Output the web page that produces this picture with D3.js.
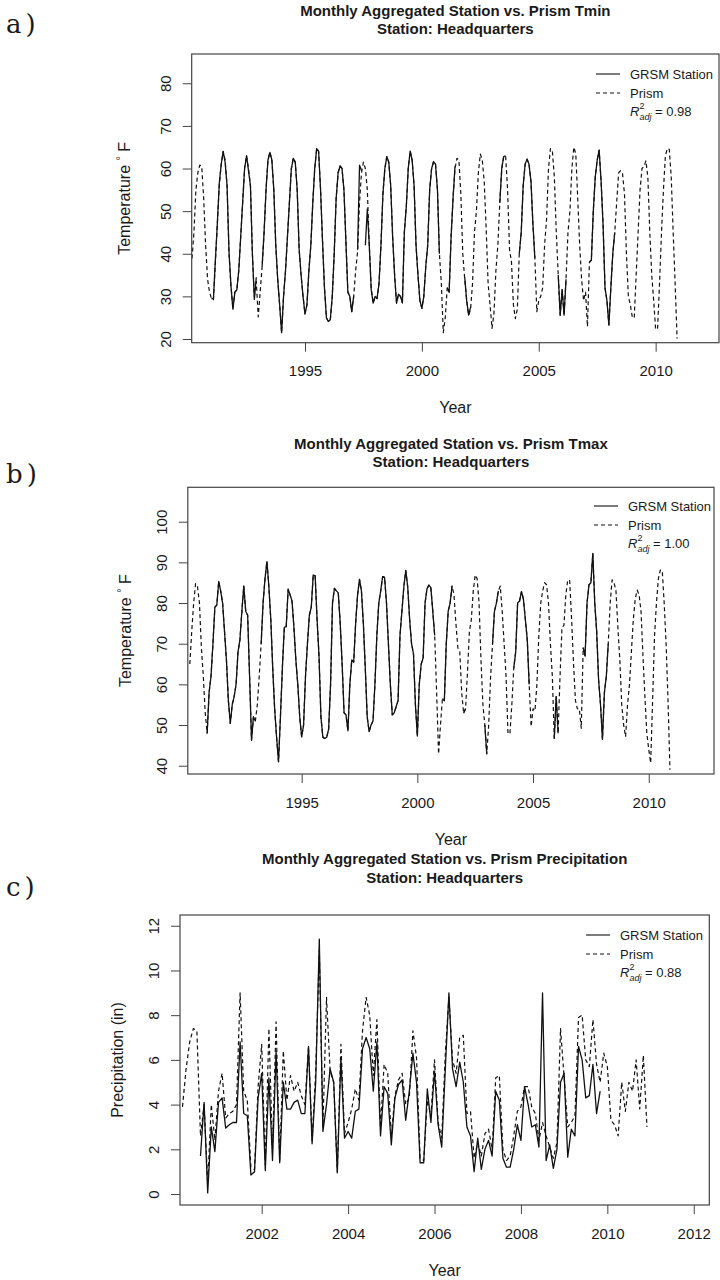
<!DOCTYPE html>
<html><head><meta charset="utf-8">
<script src="https://cdn.jsdelivr.net/npm/d3@7"></script>
<style>
body{margin:0;background:#fff}
svg{display:block}
text{font-family:"Liberation Sans",Arial,Helvetica,sans-serif;fill:#1a1a1a}
</style>
</head><body>
<svg id="chart" width="720" height="1280"></svg>
<script>
// ---------------- DATA ----------------
// monthly series; temperature series start March 1990, precipitation March 2000
const tempStart = [1990, 3];
const precipStart = [2000, 3];

const tminPrism = [
  38.9,45,55,59,60.8,60.5,53,42,34,31,
  29.5,29.2,38,47,56,61,64,62,56,40,32.5,27,
  31,31.5,36,44,52,60,63,60,56,40,30,33.5,
  25.2,31,37,45,55,62,63.8,62,55,42,34,28,
  21.5,30,36,44,52,60,62.4,61.5,55,41,35,30,
  25.9,28,36,42,52,60,64.7,64,55,43,32,25,
  24.1,24.5,30,40,53,59,60.6,60,55,43,31,30,
  26.4,30,36,40.5,52,59,61.5,60,55,42,32,28.4,
  30,29.5,33,42,54,60,62.8,61.5,56,44,35,28.4,
  30.5,30,28.5,45,51,60,64.1,62,56,42,35,29,
  27.2,30,37,42,55,60,61.6,61,55,40,33,21.5,
  25,32,31,44,53,60,62.4,62,54,40,34,29,
  25.6,27,33,45,50,59,63.4,62,57,46,33,28,
  22.5,26,36,42,52,60,62.8,63,55,41,38,28,
  24.8,27,40,45,56,61,62.2,61,57,47,39,26.4,
  29,30,32,42,48,60,64.7,64,58,45,35,25.6,
  31.6,25.6,34,45,50,60,65,63.5,53,42,34,29,
  31,22.9,38,38.5,50,58,62,64.3,57,47,32,29,
  23.3,32,40,45,52,59,59.5,58.8,54,40,30,28,
  25.2,24.9,35,45,55,60,60.5,61.8,58,45,35,29,
  22.2,22.5,33,45,55,63,64.7,64.5,58,45,33,20.1
];
const tminStation = [
  null,null,null,null,null,null,null,null,null,null,
  29.5,29.4,38.5,47,56.5,61,64,61.5,56,40.5,32.5,27,
  31,31.5,36,44,52,60,63,59.5,56,40,29.3,34.5,
  null,null,37,45,55,62,63.8,62,55,42,34,28,
  21.5,30,36,44,52,60,62.4,61.5,55,41,35,30,
  25.9,28,36,42,52,60,64.7,64,55,43,32,25,
  24.1,24.5,30,40,53,59,60.6,60,55,43,31,30,
  26.4,30,null,41,60.8,59.5,null,42,50.5,42,31.5,28.4,
  30,29.5,33,42,54,60,62.8,61.5,56,44,35,28.4,
  30.5,30,28.5,45,51,60,64.1,62,56,42,35,29,
  27.2,30,37,42,55,60,61.6,61,55,40,null,null,
  null,32,31,44,53,60.5,null,null,null,null,34.5,29,
  25.6,27.5,null,null,null,null,null,null,null,null,null,null,
  null,null,null,null,52,60,62.8,63,null,null,null,null,
  null,null,40,45,56,61,62.2,61,57,47,39,null,
  null,null,null,null,null,null,null,null,null,null,35,25.6,
  31.6,25.6,34,null,null,null,null,null,null,null,null,null,
  null,null,38,38.5,50,58,62,64.3,57,47,32,29,
  23.3,32,40,45,null,null,null,null,null,null,null,null,
  null,null,null,null,null,null,null,null,null,null,null,null,
  null,null,null,null,null,null,null,null,null,null,null,null
];

const tmaxPrism = [
  65,73,80,84.8,84,80,69,62,53,48,
  58,62,70,79,79.5,85.3,83,80,73,66,56,50.4,
  55,57,60,68,71,78,84.2,78,77,62,46.3,52,
  51,55,62,70,80,86,90.2,84,76,64,54,47,
  41,52,64,74,74.2,83.4,82,80.5,74,66,60,52,
  47.1,50,62,70,77,79,86.9,86.7,76,67,52,47,
  46.7,47,49,60,80,83.6,83,82.5,75,65,53,52.5,
  48.6,60,66,65.5,75,82,85.8,83,75,64,52,48.4,
  50,51,60,72,80,83,86.5,86.3,80,70,60,52.5,
  53,54.5,56,72,78,84,88,84,76,70,67.5,55,
  47.3,60,65,66.5,80,83.5,84.4,83.8,78,72,58,42.9,
  50,56.5,56,70,78,80,84.2,82,75,69,68,58,
  52.9,54,63,73,76,83,86.9,86,80,66,55,50,
  42.9,50,62,70,78,80,83,84.2,78,70,62,48,
  47.8,55,64,68,80,80.5,82.8,81,76,71,60,49.6,
  54,53.5,60,72,80,83,85,84.5,80,70,62,46.7,
  57,48,62,74,74.5,82,85.7,85.5,76,65,56,54,
  54,49.2,69,67,80,84.5,85,92.2,80,73,61,55,
  46.5,58,62,70,80,85.7,85,83,74,66,55,50,
  47.1,55,60,68,76,81,83.2,82,78,67,57,48,
  44,40.7,56,72,80,86,88.1,88,80,70,56,39
];
const tmaxStation = [
  null,null,null,null,null,null,null,null,null,48,
  58,62,70,79,79.5,85.3,83,80,73,66,56,50.4,
  55,57,60,68,71,78,84.2,78,77,62,46.3,52,
  51,null,null,70,80,86,90.2,84,76,64,54,47,
  41,52,64,74,74.2,83.4,82,80.5,74,66,60,52,
  47.1,50,62,70,77,79,86.9,86.7,76,67,52,47,
  46.7,47,49,60,80,83.6,83,82.5,75,65,53,52.5,
  48.6,60,66,65.5,75,82,85.8,83,75,64,52,48.4,
  50,51,60,72,80,83,86.5,86.3,80,70,60,52.5,
  53,54.5,56,72,78,84,88,84,76,70,67.5,55,
  47.3,60,65,66.5,80,83.5,84.4,83.8,78,72,null,null,
  null,56.5,56,70,78,80,84.2,null,null,null,null,null,
  52.9,54,null,null,null,null,null,null,null,null,null,50,
  42.9,null,null,70,78,80,83,null,null,null,null,null,
  null,null,64,68,80,80.5,82.8,81,76,71,60,null,
  null,null,null,null,null,null,null,null,null,null,null,46.7,
  57,48,null,null,null,null,null,null,null,null,null,null,
  null,null,69,67,80,84.5,85,92.2,80,73,61,55,
  46.5,58,62,70,null,null,null,null,null,null,null,null,
  null,null,null,null,null,null,null,null,null,null,null,null,
  null,null,null,null,null,null,null,null,null,null,null,null
];

const precipPrism = [
  3.9,5.6,6.8,7.4,7.3,2.6,4.0,0.5,4.0,2.4,
  4.6,5.4,3.4,3.6,3.7,4.0,9.0,4.6,4.2,1.2,
  1.1,4.8,6.7,1.3,7.4,2.0,7.7,1.5,6.4,4.2,
  5.3,4.6,5.0,4.4,4.0,6.6,2.4,5.5,10.9,3.0,
  8.8,5.5,5.0,1.0,6.7,2.7,3.2,3.8,4.7,4.2,
  7.3,8.8,8.0,5.3,7.8,3.0,5.8,5.4,2.6,4.4,
  5.1,5.4,4.0,4.3,7.3,6.1,1.6,1.5,4.2,3.5,
  6.0,3.2,2.5,6.3,8.8,6.0,5.4,7.0,7.1,3.6,
  3.7,1.6,2.3,1.7,2.7,2.9,2.0,5.2,5.3,2.0,
  1.5,1.7,2.6,3.7,3.9,4.8,4.8,3.9,3.6,2.4,
  3.2,2.6,2.1,1.6,2.3,7.4,5.2,3.0,3.2,3.5,
  7.9,8.0,6.0,5.7,7.8,5.8,5.0,6.3,5.7,3.3,
  3.1,2.6,5.0,3.7,5.0,4.6,6.0,3.8,6.2,3.0
];
const precipStation = [
  null,null,null,null,null,1.7,4.1,0.05,3.0,1.9,
  4.1,4.3,2.95,3.1,3.2,3.2,6.8,3.6,3.5,0.85,
  1.0,4.3,5.4,1.05,5.2,1.5,6.4,1.4,5.0,3.8,
  3.8,4.1,4.2,3.6,3.6,6.6,2.25,5.0,11.4,2.8,
  4.0,5.6,5.0,0.95,6.1,2.5,2.8,2.5,3.7,3.8,
  6.5,7.0,6.5,4.6,6.8,2.6,4.8,4.5,2.2,4.3,
  4.9,5.1,3.3,4.6,6.3,5.0,1.4,1.4,4.7,3.2,
  5.5,3.1,2.1,5.6,9.0,5.6,4.8,5.9,5.0,3.0,
  2.6,1.0,2.5,1.1,2.0,2.4,1.7,4.6,4.2,1.6,
  1.2,1.2,2.0,3.1,2.4,4.8,4.0,3.0,3.1,2.1,
  9.0,1.5,2.2,1.15,2.0,5.0,5.4,1.65,2.9,2.6,
  6.6,6.0,4.3,4.4,5.8,3.6,4.6,null,null,null,
  null,null,null,null,null,null,null,null,null,null
];

const tempYearTicks = [1995, 2000, 2005, 2010];
const precipYearTicks = [2002, 2004, 2006, 2008, 2010, 2012];
const tminTicks = [20, 30, 40, 50, 60, 70, 80];
const tmaxTicks = [40, 50, 60, 70, 80, 90, 100];
const precipTicks = [0, 2, 4, 6, 8, 10, 12];
const seriesNames = ["GRSM Station", "Prism"];
const r2Values = ["0.98", "1.00", "0.88"];
const panelLetters = ["a)", "b)", "c)"];
const titleLines = [
  ["Monthly Aggregated Station vs. Prism Tmin", "Station: Headquarters"],
  ["Monthly Aggregated Station vs. Prism Tmax", "Station: Headquarters"],
  ["Monthly Aggregated Station vs. Prism Precipitation", "Station: Headquarters"]
];

// ---------------- LAYOUT ----------------
const panels = [
  {prism: tminPrism, station: tminStation, start: tempStart,
   xDomain: [1990.154, 2012.71], yDomain: [19.13, 86.87],
   box: {l: 191.7, r: 719, t: 54, b: 342.7},
   xTicks: tempYearTicks, yTicks: tminTicks, ylab: "temp",
   titleY: [16, 34], letterY: 24, ylabX: 124, legY: 74, legX: 596},
  {prism: tmaxPrism, station: tmaxStation, start: tempStart,
   xDomain: [1990.08, 2012.82], yDomain: [37.96, 108.46],
   box: {l: 187.8, r: 714, t: 487.3, b: 774},
   xTicks: tempYearTicks, yTicks: tmaxTicks, ylab: "temp",
   titleY: [449, 467], letterY: 474, ylabX: 125, legY: 506, legX: 594},
  {prism: precipPrism, station: precipStation, start: precipStart,
   xDomain: [2000.109, 2012.36], yDomain: [-0.49, 12.48],
   box: {l: 180, r: 709.3, t: 915, b: 1205},
   xTicks: precipYearTicks, yTicks: precipTicks, ylab: "Precipitation (in)",
   titleY: [864, 883], letterY: 887, ylabX: 117, legY: 935, legX: 586}
];

const svg = d3.select("#chart");
const INK = "#111", BOX = "#444";

panels.forEach((p, k) => {
  const b = p.box;
  const x = d3.scaleLinear().domain(p.xDomain).range([b.l, b.r]);
  const y = d3.scaleLinear().domain(p.yDomain).range([b.b, b.t]);
  const g = svg.append("g");

  // panel letter
  g.append("text").attr("x", 6).attr("y", p.letterY)
    .attr("dominant-baseline", "central")
    .style("font-family", "'DejaVu Serif','Liberation Serif',serif")
    .style("font-size", "26px").style("letter-spacing", "4px")
    .text(panelLetters[k]);

  // titles
  const cx = (b.l + b.r) / 2;
  titleLines[k].forEach((t, i) => {
    g.append("text").attr("x", cx).attr("y", p.titleY[i])
      .attr("text-anchor", "middle")
      .style("font-weight", "bold").style("font-size", "15px").text(t);
  });

  // clip
  const cid = "clip" + k;
  svg.append("clipPath").attr("id", cid).append("rect")
    .attr("x", b.l).attr("y", b.t).attr("width", b.r - b.l).attr("height", b.b - b.t);

  const toPts = arr => arr.map((v, i) => ({t: p.start[0] + (p.start[1] - 1 + i) / 12, v}));
  const line = d3.line().defined(d => d.v != null).x(d => x(d.t)).y(d => y(d.v));

  const lg = g.append("g").attr("clip-path", `url(#${cid})`);
  lg.append("path").datum(toPts(p.prism)).attr("d", line)
    .attr("fill", "none").attr("stroke", INK).attr("stroke-width", 1.2)
    .attr("stroke-dasharray", "4,3").attr("stroke-linejoin", "round");
  lg.append("path").datum(toPts(p.station)).attr("d", line)
    .attr("fill", "none").attr("stroke", INK).attr("stroke-width", 1.3)
    .attr("stroke-linejoin", "round");

  // axes
  const xa = g.append("g").attr("transform", `translate(0,${b.b})`)
    .call(d3.axisBottom(x).tickValues(p.xTicks).tickSize(9).tickPadding(14).tickFormat(d3.format("d")));
  xa.select(".domain").remove();
  xa.selectAll("line").attr("stroke", BOX);
  xa.selectAll("text").style("font-size", "15px").attr("fill", INK).attr("dy", "0.71em");

  const ya = g.append("g").attr("transform", `translate(${b.l},0)`)
    .call(d3.axisLeft(y).tickValues(p.yTicks).tickSize(9).tickFormat(d3.format("d")));
  ya.select(".domain").remove();
  ya.selectAll("line").attr("stroke", BOX);
  ya.selectAll("text").attr("x", null).attr("dy", null)
    .attr("transform", "translate(-26.7,0) rotate(-90)")
    .attr("text-anchor", "middle").attr("dominant-baseline", "central")
    .style("font-size", "15px").attr("fill", INK);

  // box
  g.append("rect").attr("x", b.l).attr("y", b.t).attr("width", b.r - b.l).attr("height", b.b - b.t)
    .attr("fill", "none").attr("stroke", BOX).attr("stroke-width", 1.2);

  // axis titles
  g.append("text").attr("x", cx).attr("y", b.b + 65).attr("text-anchor", "middle")
    .attr("dominant-baseline", "central").style("font-size", "16px").text("Year");
  const ymid = (b.t + b.b) / 2;
  const yl = g.append("text").attr("transform", `translate(${p.ylabX},${ymid}) rotate(-90)`)
    .attr("text-anchor", "middle").attr("dominant-baseline", "central").style("font-size", "16px");
  if (p.ylab === "temp") {
    yl.append("tspan").text("Temperature  ");
    yl.append("tspan").attr("dy", -4).style("font-size", "11px").text("\u00B0");
    yl.append("tspan").attr("dy", 4).text(" F");
  } else {
    yl.text(p.ylab);
  }

  // legend
  const lx = p.legX, ly = p.legY, dyL = 19;
  [0, 1].forEach(i => {
    g.append("line").attr("x1", lx).attr("x2", lx + 24).attr("y1", ly + i * dyL).attr("y2", ly + i * dyL)
      .attr("stroke", INK).attr("stroke-width", 1.1)
      .attr("stroke-dasharray", i === 1 ? "4,3" : null);
    g.append("text").attr("x", lx + 34).attr("y", ly + i * dyL).attr("dominant-baseline", "central")
      .style("font-size", "13px").text(seriesNames[i]);
  });
  const rt = g.append("text").attr("x", lx + 34).attr("y", ly + 2 * dyL + 4).style("font-size", "13px");
  rt.append("tspan").style("font-style", "italic").text("R");
  rt.append("tspan").attr("dy", -7).style("font-size", "9px").text("2");
  rt.append("tspan").attr("dx", -5).attr("dy", 11).style("font-size", "9px").style("font-style", "italic").text("adj");
  rt.append("tspan").attr("dy", -4).text(" = " + r2Values[k]);
});
</script>
</body></html>
